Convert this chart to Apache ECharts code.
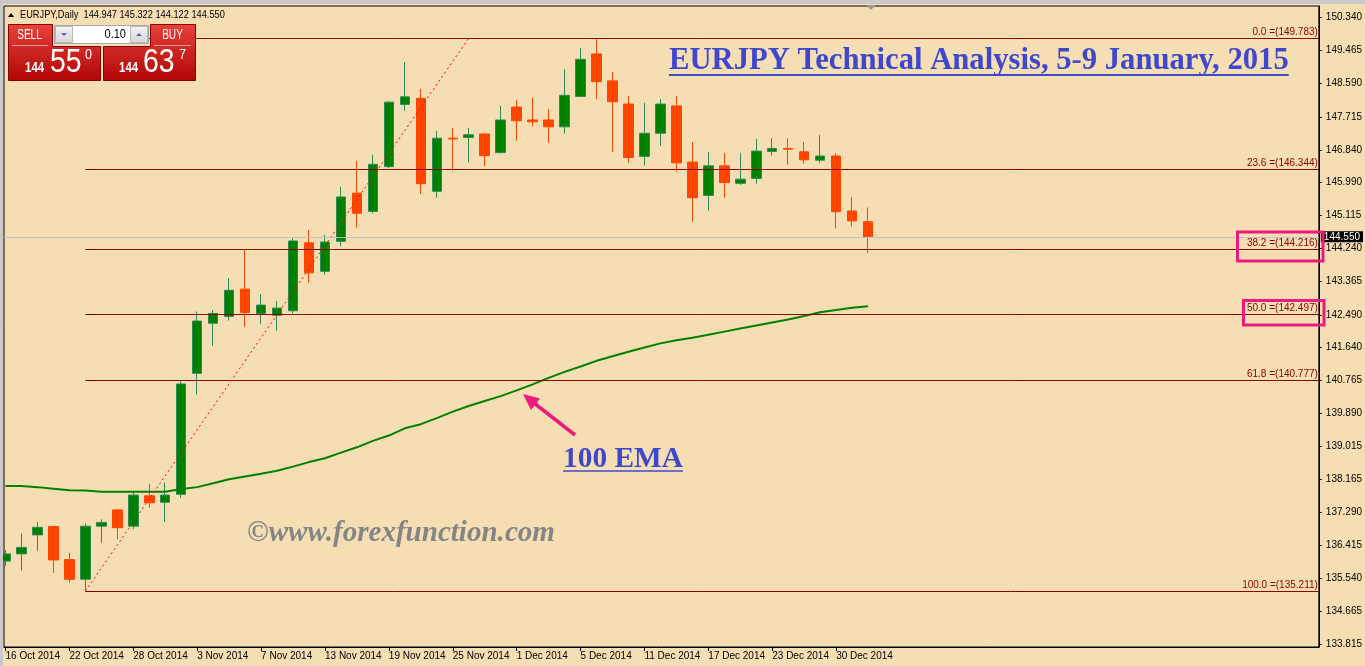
<!DOCTYPE html>
<html><head><meta charset="utf-8">
<script src="https://cdn.jsdelivr.net/npm/echarts@6/dist/echarts.min.js"></script>
<style>html,body{margin:0;padding:0;background:#F5DEB3;}#chart{width:1365px;height:666px;}</style>
</head><body><div id="chart"></div>
<script>
// ---------- data ----------
const dates = ['16 Oct 2014','17 Oct 2014','20 Oct 2014','21 Oct 2014','22 Oct 2014','23 Oct 2014','24 Oct 2014','27 Oct 2014','28 Oct 2014','29 Oct 2014','30 Oct 2014','31 Oct 2014',
 '3 Nov 2014','4 Nov 2014','5 Nov 2014','6 Nov 2014','7 Nov 2014','10 Nov 2014','11 Nov 2014','12 Nov 2014','13 Nov 2014','14 Nov 2014','17 Nov 2014','18 Nov 2014','19 Nov 2014','20 Nov 2014','21 Nov 2014','24 Nov 2014','25 Nov 2014','26 Nov 2014','27 Nov 2014','28 Nov 2014',
 '1 Dec 2014','2 Dec 2014','3 Dec 2014','4 Dec 2014','5 Dec 2014','8 Dec 2014','9 Dec 2014','10 Dec 2014','11 Dec 2014','12 Dec 2014','15 Dec 2014','16 Dec 2014','17 Dec 2014','18 Dec 2014','19 Dec 2014','22 Dec 2014','23 Dec 2014','24 Dec 2014','26 Dec 2014','29 Dec 2014','30 Dec 2014','31 Dec 2014','2 Jan 2015'];
const opens  = [136.00,136.19,136.69,136.91,136.04,135.52,136.92,137.35,136.92,137.72,137.55,137.76,140.95,142.27,142.45,143.17,142.53,142.48,142.60,144.39,143.64,144.43,145.70,145.22,146.40,148.04,148.20,145.75,147.15,147.17,147.26,146.77,147.97,147.63,147.63,147.45,148.25,149.37,148.66,148.05,146.67,147.28,148.00,146.52,145.64,146.42,145.96,146.09,146.80,146.88,146.79,146.57,146.68,145.23,144.947];
const closes = [136.19,136.36,136.89,136.03,135.52,136.92,137.02,136.88,137.74,137.54,137.74,140.67,142.33,142.53,143.14,142.55,142.75,142.67,144.44,143.60,144.41,145.60,145.17,146.46,148.10,148.24,145.95,147.15,147.13,147.24,146.69,147.63,147.61,147.58,147.45,148.28,149.23,148.64,148.11,146.64,147.28,148.05,146.50,145.58,146.42,145.98,146.07,146.81,146.88,146.86,146.58,146.68,145.21,144.97,144.550];
const lows   = [135.87,135.75,136.27,135.69,135.43,135.211,136.48,136.57,136.84,137.41,137.03,137.67,140.39,141.68,142.34,142.18,142.25,142.07,142.53,143.34,143.55,144.30,144.79,145.17,146.36,147.87,145.68,145.58,146.29,146.51,146.42,146.75,147.08,147.46,147.03,147.27,148.25,148.18,146.79,146.50,146.43,146.95,146.27,144.95,145.24,145.58,145.92,145.95,146.69,146.45,146.48,146.50,144.77,144.82,144.122];
const highs  = [136.29,136.73,137.03,136.93,136.22,136.99,137.10,137.37,137.83,138.04,138.07,140.78,142.58,142.62,143.46,144.22,143.04,142.86,144.51,144.73,144.60,145.87,146.55,146.71,148.13,149.16,148.45,147.34,147.42,147.42,147.28,148.00,148.16,148.21,147.92,148.97,149.53,149.783,148.90,148.26,148.08,148.18,148.26,147.05,146.79,146.76,146.76,147.13,147.15,147.15,147.05,147.23,146.75,145.60,145.322];
const ema100 = [137.98,137.98,137.95,137.91,137.87,137.86,137.83,137.83,137.83,137.83,137.83,137.90,137.95,138.05,138.16,138.23,138.30,138.38,138.49,138.61,138.71,138.86,139.00,139.17,139.31,139.50,139.61,139.77,139.94,140.09,140.22,140.35,140.50,140.66,140.83,140.99,141.13,141.28,141.40,141.52,141.63,141.74,141.82,141.89,141.97,142.05,142.13,142.21,142.29,142.37,142.46,142.56,142.62,142.68,142.72];
const yTicks = [150.340,149.465,148.590,147.715,146.840,145.990,145.115,144.240,143.365,142.490,141.640,140.765,139.890,139.015,138.165,137.290,136.415,135.540,134.665,133.815];
const xLabelDates = ['16 Oct 2014','22 Oct 2014','28 Oct 2014','3 Nov 2014','7 Nov 2014','13 Nov 2014','19 Nov 2014','25 Nov 2014','1 Dec 2014','5 Dec 2014','11 Dec 2014','17 Dec 2014','23 Dec 2014','30 Dec 2014'];
const fibLevels = [0.0, 23.6, 38.2, 50.0, 61.8, 100.0];
const fibPrices = [149.783, 146.344, 144.216, 142.497, 140.777, 135.211];
const fibFrom = '23 Oct 2014';
const fibTo = '26 Nov 2014';
const lastQuote = {open: 144.947, high: 145.322, low: 144.122, close: 144.550};
const sellQuote = ['144', '55', '0'];
const buyQuote = ['144', '63', '7'];
const lotSize = '0.10';
const titleText = 'EURJPY Technical Analysis, 5-9 January, 2015';
const emaText = '100 EMA';
const watermarkText = '\u00A9www.forexfunction.com';

// ---------- layout ----------
const X_MIN = -0.09375, X_MAX = 82.21875;
const Y_MIN = 133.735, Y_MAX = 150.635;
const BLUE = '#3f48cc', PINK = '#ec1a7e', FIB = '#8B0000';

const candleData = dates.map((d, i) => [i, opens[i], closes[i], lows[i], highs[i]]);
const emaData = ema100.map((v, i) => [i, v]);
const xLabelIdx = xLabelDates.map(d => dates.indexOf(d));
const fibStart = dates.indexOf(fibFrom), fibEnd = dates.indexOf(fibTo);

const mctx = document.createElement('canvas').getContext('2d');
function textW(font, t) { mctx.font = font; return mctx.measureText(t).width; }
function fitFont(style, size, family, t, target) {
  const w = textW(style + ' ' + size + 'px ' + family, t);
  return style + ' ' + (size * target / w).toFixed(2) + 'px ' + family;
}
const SERIF = '"Liberation Serif", "DejaVu Serif", serif';
const SANS = '"Liberation Sans", sans-serif';
const titleFont = fitFont('bold', 30, SERIF, titleText, 620);
const emaFont = fitFont('bold', 28, SERIF, emaText, 120);
const wmFont = fitFont('italic bold', 26, SERIF, watermarkText, 308);

const fibLines = fibPrices.map((p, i) => [
  {coord: [fibStart, p], label: {formatter: fibLevels[i].toFixed(1) + ' =(' + p.toFixed(3) + ')'}},
  {coord: [X_MAX, p]}
]);
const trendLine = [
  {coord: [fibStart, fibPrices[5]], lineStyle: {color: '#ff0000', type: [2, 3], width: 1}, label: {show: false}},
  {coord: [fibEnd, fibPrices[0]]}
];
const priceLine = {
  yAxis: lastQuote.close,
  lineStyle: {color: '#C0C0C0', type: 'solid', width: 1},
  label: {show: true, position: 'end', formatter: lastQuote.close.toFixed(3), color: '#fff', backgroundColor: '#000',
          padding: [1, 3, 0, 3], distance: 2, fontSize: 10, fontFamily: SANS}
};

const redGrad = () => new echarts.graphic.LinearGradient(0, 0, 0, 1, [{offset: 0, color: '#e8423c'}, {offset: 1, color: '#b00606'}]);
const btnGrad = () => new echarts.graphic.LinearGradient(0, 0, 0, 1, [{offset: 0, color: '#f4f4f4'}, {offset: 1, color: '#d6d6d6'}]);

// text with a horizontal squeeze to imitate the narrow terminal font
function txt(x, y, text, font, fill, align, z, sx) {
  return {type: 'text', x: x, y: y, z: z || 50, silent: true, scaleX: sx || 1,
          style: {text: text, font: font, fill: fill, textAlign: align || 'left', textVerticalAlign: 'middle'}};
}

const titleW = textW(titleFont, titleText), emaW = textW(emaFont, emaText);

const graphic = [
  // window frame strips
  {type: 'rect', shape: {x: 0, y: 0, width: 1365, height: 4}, style: {fill: '#c9c9c9'}, z: 40, silent: true},
  {type: 'rect', shape: {x: 0, y: 0, width: 3, height: 666}, style: {fill: '#c9c9c9'}, z: 40, silent: true},
  {type: 'polygon', shape: {points: [[866, 5], [876, 5], [871, 10]]}, style: {fill: '#9a9a9a'}, z: 41, silent: true},
  // header
  {type: 'polygon', shape: {points: [[8, 17], [14, 17], [11, 13]]}, style: {fill: '#000'}, z: 50, silent: true},
  txt(20, 15, 'EURJPY,Daily  ' + [lastQuote.open, lastQuote.high, lastQuote.low, lastQuote.close].map(v => v.toFixed(3)).join(' '),
      '10.5px ' + SANS, '#000', 'left', 50, 0.88),
  // SELL / BUY widget
  {type: 'polygon', z: 60, silent: true, shape: {points: [[8.5, 24.5], [52.5, 24.5], [52.5, 46.5], [100.5, 46.5], [100.5, 80.5], [8.5, 80.5]]},
   style: {fill: redGrad(), stroke: '#8a0000', lineWidth: 1}},
  {type: 'polygon', z: 60, silent: true, shape: {points: [[150.5, 24.5], [195.5, 24.5], [195.5, 80.5], [103.5, 80.5], [103.5, 46.5], [150.5, 46.5]]},
   style: {fill: redGrad(), stroke: '#8a0000', lineWidth: 1}},
  {type: 'line', z: 61, silent: true, shape: {x1: 12, y1: 45.5, x2: 48, y2: 45.5}, style: {stroke: '#f39a9a', lineWidth: 1}},
  {type: 'line', z: 61, silent: true, shape: {x1: 154, y1: 45.5, x2: 191, y2: 45.5}, style: {stroke: '#f39a9a', lineWidth: 1}},
  {type: 'rect', z: 60, silent: true, shape: {x: 54.5, y: 25.5, width: 94, height: 18}, style: {fill: '#fff', stroke: '#a8a8a8'}},
  {type: 'rect', z: 61, silent: true, shape: {x: 55.5, y: 26.5, width: 17, height: 16}, style: {fill: btnGrad(), stroke: '#b8b8b8'}},
  {type: 'rect', z: 61, silent: true, shape: {x: 130.5, y: 26.5, width: 17, height: 16}, style: {fill: btnGrad(), stroke: '#b8b8b8'}},
  {type: 'polygon', z: 62, silent: true, shape: {points: [[61, 33], [67, 33], [64, 36]]}, style: {fill: '#5468b0'}},
  {type: 'polygon', z: 62, silent: true, shape: {points: [[136, 36], [142, 36], [139, 33]]}, style: {fill: '#5468b0'}},
  txt(126, 34.5, lotSize, '13px ' + SANS, '#000', 'right', 62, 0.85),
  txt(29.5, 35, 'SELL', '14px ' + SANS, '#fff', 'center', 62, 0.72),
  txt(172.5, 35, 'BUY', '14px ' + SANS, '#fff', 'center', 62, 0.72),
  txt(25, 68.5, sellQuote[0], 'bold 14px ' + SANS, '#fff', 'left', 62, 0.82),
  txt(50, 62.5, sellQuote[1], '33px ' + SANS, '#fff', 'left', 62, 0.86),
  txt(85, 55, sellQuote[2], '15px ' + SANS, '#fff', 'left', 62, 0.84),
  txt(119, 68.5, buyQuote[0], 'bold 14px ' + SANS, '#fff', 'left', 62, 0.82),
  txt(143, 62.5, buyQuote[1], '33px ' + SANS, '#fff', 'left', 62, 0.86),
  txt(179, 55, buyQuote[2], '15px ' + SANS, '#fff', 'left', 62, 0.84),
  // title
  txt(669, 61, titleText, titleFont, BLUE),
  {type: 'line', z: 50, silent: true, shape: {x1: 669, y1: 75, x2: 669 + titleW, y2: 75}, style: {stroke: BLUE, lineWidth: 2}},
  // 100 EMA label and arrow
  txt(563, 459, emaText, emaFont, BLUE),
  {type: 'line', z: 50, silent: true, shape: {x1: 563, y1: 471, x2: 563 + emaW, y2: 471}, style: {stroke: BLUE, lineWidth: 1.5}},
  {type: 'line', z: 50, silent: true, shape: {x1: 575, y1: 435, x2: 534, y2: 403}, style: {stroke: PINK, lineWidth: 3.5}},
  {type: 'polygon', z: 50, silent: true, shape: {points: [[523, 394], [540, 398.5], [531, 410]]}, style: {fill: PINK}},
  // watermark
  txt(247, 533, watermarkText, wmFont, '#858585'),
  // highlight boxes
  {type: 'rect', z: 55, silent: true, shape: {x: 1237.5, y: 232, width: 85.5, height: 29}, style: {fill: 'none', stroke: PINK, lineWidth: 3}},
  {type: 'rect', z: 55, silent: true, shape: {x: 1243.5, y: 300.5, width: 80.5, height: 24.5}, style: {fill: 'none', stroke: PINK, lineWidth: 3}}
];

const option = {
  animation: false,
  backgroundColor: '#F5DEB3',
  textStyle: {fontFamily: SANS},
  grid: {left: 4, right: 44, top: 6, bottom: 19, show: true, borderColor: '#000', borderWidth: 1, backgroundColor: '#F5DEB3'},
  xAxis: {
    type: 'value', min: X_MIN, max: X_MAX,
    axisLine: {show: true, onZero: false, lineStyle: {color: '#000', width: 1}},
    axisTick: {show: true, length: 4, lineStyle: {color: '#000'}, customValues: xLabelIdx},
    axisLabel: {show: true, customValues: xLabelIdx, formatter: v => dates[Math.round(v)], align: 'left', margin: 4,
                color: '#000', fontSize: 10, fontFamily: SANS},
    splitLine: {show: false}
  },
  yAxis: {
    type: 'value', position: 'right', min: Y_MIN, max: Y_MAX, scale: true,
    axisLine: {show: true, onZero: false, lineStyle: {color: '#000', width: 1}},
    axisTick: {show: true, length: 3, lineStyle: {color: '#000'}, customValues: yTicks},
    axisLabel: {show: true, customValues: yTicks, formatter: v => v.toFixed(3), margin: 7,
                color: '#000', fontSize: 10, fontFamily: SANS},
    splitLine: {show: false}
  },
  series: [
    {
      type: 'candlestick', data: candleData, barWidth: 10, clip: true,
      encode: {x: 0, y: [1, 2, 3, 4]},
      itemStyle: {color: '#008000', color0: '#FF4500', borderColor: '#2E8B57', borderColor0: '#FF4500', borderWidth: 1},
      markLine: {
        silent: true, symbol: ['none', 'none'], animation: false,
        lineStyle: {color: FIB, type: 'solid', width: 1},
        label: {show: true, position: 'insideEndTop', color: FIB, fontSize: 10, fontFamily: SANS, distance: [1, 1]},
        data: [...fibLines, trendLine, priceLine]
      }
    },
    {
      type: 'line', data: emaData, symbol: 'none', showSymbol: false, clip: true, z: 3,
      lineStyle: {color: '#008000', width: 2}
    }
  ],
  graphic: graphic
};
const chart = echarts.init(document.getElementById('chart'), null, {renderer: 'canvas'});
chart.setOption(option);
</script></body></html>
